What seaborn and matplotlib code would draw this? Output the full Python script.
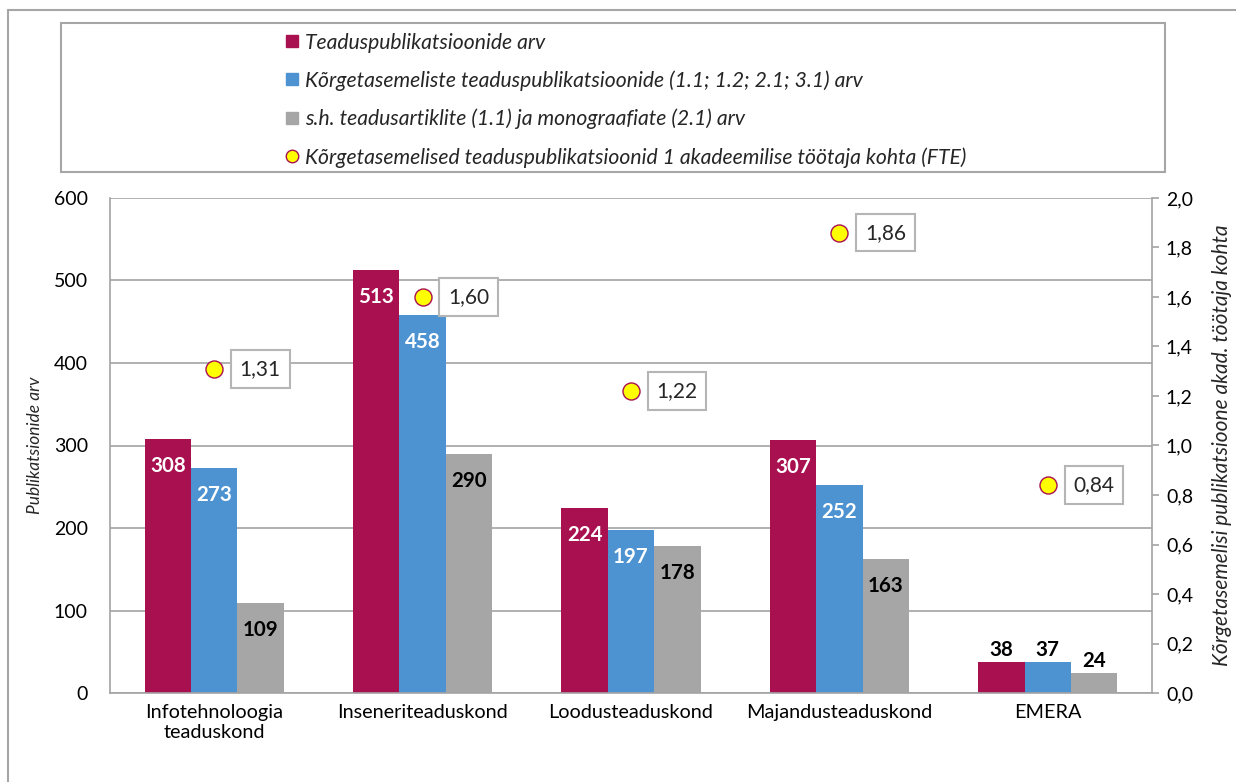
import matplotlib
matplotlib.use("Agg")
import matplotlib.pyplot as plt
from matplotlib.patches import Rectangle
from matplotlib.lines import Line2D
from matplotlib.ticker import FuncFormatter, MultipleLocator
import seaborn as sns
import pandas as pd

# Faculties (x axis)
categories = ["Infotehnoloogia\nteaduskond", "Inseneriteaduskond", "Loodusteaduskond",
              "Majandusteaduskond", "EMERA"]
# Publication counts per series
total_pubs = [308, 513, 224, 307, 38]
high_level_pubs = [273, 458, 197, 252, 37]
articles_monographs = [109, 290, 178, 163, 24]
# High-level publications per academic employee (FTE), right axis
per_fte = [1.31, 1.60, 1.22, 1.86, 0.84]

series_names = [
    "Teaduspublikatsioonide arv",
    "Kõrgetasemeliste teaduspublikatsioonide (1.1; 1.2; 2.1; 3.1) arv",
    "s.h. teadusartiklite (1.1) ja monograafiate (2.1) arv",
]
ratio_name = "Kõrgetasemelised teaduspublikatsioonid 1 akadeemilise töötaja kohta (FTE)"
colors = ["#A8104F", "#4E93D1", "#A6A6A6"]
label_colors = ["white", "white", "black"]
grid_col = "#A3A3A3"

sns.set_theme(style="white")
plt.rcParams["font.family"] = ["Lato", "DejaVu Sans"]

rows = []
for name, vals in zip(series_names, [total_pubs, high_level_pubs, articles_monographs]):
    for c, v in zip(categories, vals):
        rows.append({"cat": c, "value": v, "series": name})
df = pd.DataFrame(rows)

fig = plt.figure(figsize=(12.36, 7.82), dpi=100)
W, H = 1236, 782
ax = fig.add_axes([110 / W, 1 - 693 / H, (1152 - 110) / W, (693 - 198) / H])

sns.barplot(data=df, x="cat", y="value", hue="series", order=categories,
            hue_order=series_names, palette=colors, saturation=1, width=0.667,
            linewidth=0, ax=ax, legend=False)

ax.set_xlim(-0.5, len(categories) - 0.5)
ax.set_ylim(0, 600)
ax.yaxis.set_major_locator(MultipleLocator(100))
ax.grid(axis="y", color=grid_col, linewidth=1.2)
ax.set_axisbelow(True)
for side in ["left", "bottom"]:
    ax.spines[side].set_color(grid_col)
    ax.spines[side].set_linewidth(1.2)
for side in ["top", "right"]:
    ax.spines[side].set_visible(False)
ax.tick_params(axis="y", length=0, labelsize=14, pad=16, colors="black")
ax.tick_params(axis="x", length=0, labelsize=14.3, pad=8, colors="black")
ax.set_xlabel("")
ax.set_ylabel("Publikatsionide arv", fontsize=12.5, fontstyle="italic", labelpad=8)

# value labels on bars
for cont, lc in zip(ax.containers, label_colors):
    for patch in cont:
        h = patch.get_height()
        xc = patch.get_x() + patch.get_width() / 2
        if h >= 60:
            ax.annotate(f"{h:.0f}", (xc, h), xytext=(0, -27), textcoords="offset pixels",
                        ha="center", va="center", fontsize=14.8, fontweight="bold", color=lc)
        else:
            ax.annotate(f"{h:.0f}", (xc, h), xytext=(0, 2), textcoords="offset pixels",
                        ha="center", va="bottom", fontsize=14.8, fontweight="bold", color="black")

# secondary axis: publications per FTE
ax2 = ax.twinx()
ax2.set_ylim(0, 2.0)
ax2.yaxis.set_major_locator(MultipleLocator(0.2))
ax2.yaxis.set_major_formatter(FuncFormatter(lambda v, p: f"{v:.1f}".replace(".", ",")))
positions = list(range(len(categories)))
sns.scatterplot(x=positions, y=per_fte, ax=ax2, s=150, color="#FFFF00",
                edgecolor="#A8104F", linewidth=1.0, zorder=5, legend=False)
for xi, v in zip(positions, per_fte):
    ax2.annotate(f"{v:.2f}".replace(".", ","), (xi, v), xytext=(46, 0),
                 textcoords="offset pixels", ha="center", va="center", fontsize=15,
                 bbox=dict(boxstyle="square,pad=0.42", fc="white", ec="#B5B5B5", lw=1.5))
for side in ["left", "top", "bottom"]:
    ax2.spines[side].set_visible(False)
ax2.spines["right"].set_color(grid_col)
ax2.spines["right"].set_linewidth(1.2)
ax2.tick_params(axis="y", length=5, width=1.2, color=grid_col, labelsize=14, pad=5,
                labelcolor="black")
ax2.set_ylabel("Kõrgetasemelisi publikatsioone akad. töötaja kohta", fontsize=15,
               fontstyle="italic", labelpad=14)
ax2.grid(False)

# legend panel
fig.patches.append(Rectangle((61 / W, 1 - 172 / H), (1165 - 61) / W, (172 - 23) / H,
                             transform=fig.transFigure, fill=False, ec="#A6A6A6", lw=1.5))
handles = [Line2D([], [], marker="s", ls="none", color=c, markersize=8) for c in colors]
handles.append(Line2D([], [], marker="o", ls="none", markerfacecolor="#FFFF00",
                      markeredgecolor="#A8104F", markersize=9))
fig.legend(handles, series_names + [ratio_name], loc="upper left",
           bbox_to_anchor=(275 / W, 1 - 22 / H), frameon=False, handlelength=0.6,
           handletextpad=0.3, labelspacing=0.84, borderpad=0,
           prop={"style": "italic", "size": 15.2})

# outer frame
fig.patches.append(Rectangle((8 / W, -0.1), 1.2, 1 - 10 / H + 0.1, transform=fig.transFigure,
                             fill=False, ec="#A6A6A6", lw=1.5, clip_on=False))

fig.savefig("out.png", dpi=100, facecolor="white")
